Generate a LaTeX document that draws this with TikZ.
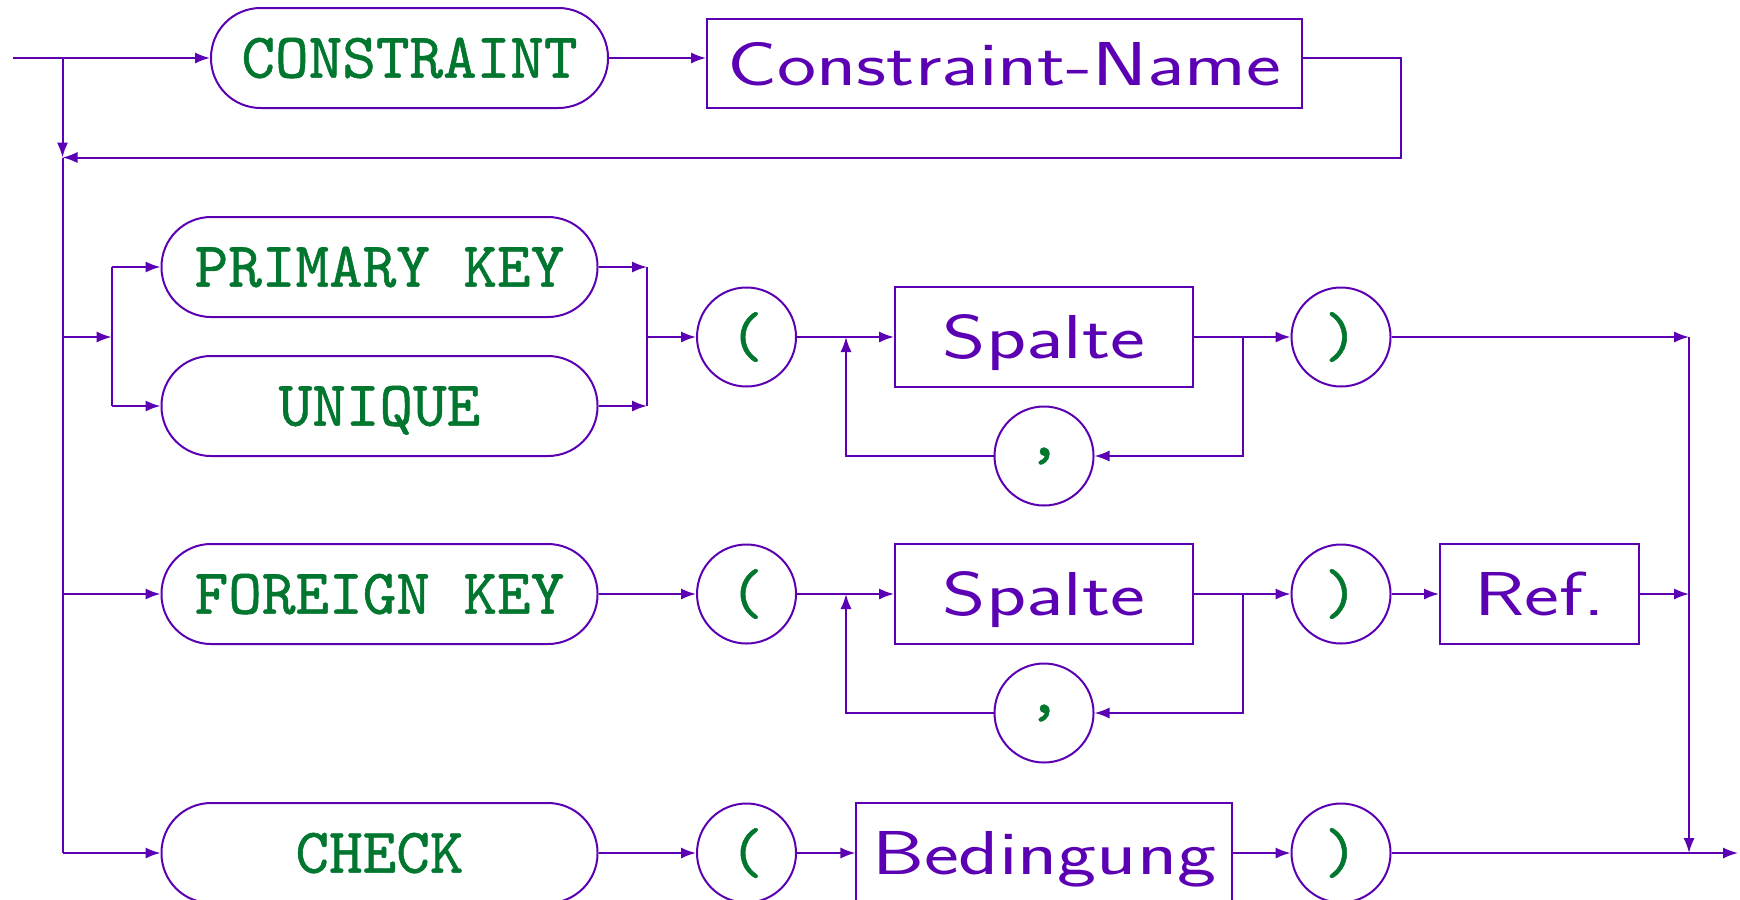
\documentclass[tikz,border=0pt]{standalone}
\usepackage{fontspec}
\newfontfamily\kwfont{lmmono10-regular.otf}[FakeBold=0.8]
\newfontfamily\ntfont{lmsans17-regular.otf}
\usetikzlibrary{arrows.meta}
\definecolor{lin}{RGB}{92,0,180}
\definecolor{kwc}{RGB}{0,118,46}
\newcommand{\ws}[1]{\scalebox{1.34}[1]{#1}}
\tikzset{
  ln/.style={draw=lin, line width=0.5pt},
  arr/.style={ln, -{Latex[length=3.75pt,width=2.8pt]}},
  kw/.style={draw=lin, line width=0.5pt, rounded corners=12.4pt, minimum height=25pt,
    inner sep=0pt, text=kwc, font=\fontsize{16}{19}\selectfont\kwfont,
    text height=9.8pt, text depth=0pt},
  nt/.style={draw=lin, line width=0.5pt, minimum height=25pt, inner sep=0pt,
    text=lin, font=\fontsize{15.5}{18}\selectfont\ntfont,
    text height=10.8pt, text depth=0pt},
  circ/.style={circle, draw=lin, line width=0.5pt, minimum size=24.75pt, inner sep=0pt,
    text=kwc, font=\fontsize{16}{19}\selectfont\kwfont},
  paren/.style={circ, text height=9.8pt, text depth=0pt}
}
\begin{document}
\begin{tikzpicture}[x=0.25pt,y=-0.25pt]
\useasboundingbox (0,0) rectangle (1740,899);
\clip (0,0) rectangle (1740,899);

% nodes
\node[kw, minimum width=99.25pt] (con) at (409.5,58) {CONSTRAINT};
\node[nt, minimum width=148.75pt, minimum height=22.25pt] (cn) at (1004.5,63.5) {\ws{Constraint-Name}};

\node[kw, minimum width=109pt] (pk) at (379.5,267) {PRIMARY KEY};
\node[kw, minimum width=109pt] (uq) at (379.5,406) {UNIQUE};
\node[paren] (lp1) at (746.5,337) {(};
\node[nt, minimum width=74.5pt] (sp1) at (1044,337) {\ws{Spalte}};
\node[circ] (cm1) at (1044,456) {,};
\node[paren] (rp1) at (1341,337) {)};

\node[kw, minimum width=109pt] (fk) at (379.5,594) {FOREIGN KEY};
\node[paren] (lp2) at (746.5,594) {(};
\node[nt, minimum width=74.5pt] (sp2) at (1044,594) {\ws{Spalte}};
\node[circ] (cm2) at (1044,713) {,};
\node[paren] (rp2) at (1341,594) {)};
\node[nt, minimum width=49.75pt] (ref) at (1539.5,594) {\ws{Ref.}};

\node[kw, minimum width=109pt] (ck) at (379.5,853) {CHECK};
\node[paren] (lp3) at (746.5,853) {(};
\node[nt, minimum width=93.9pt] (bed) at (1044.25,853) {\ws{Bedingung}};
\node[paren] (rp3) at (1341,853) {)};

% coordinates
\coordinate (start) at (12.5,58);
\coordinate (split) at (62.5,58);
\coordinate (back) at (62.5,157.5);
\coordinate (loopR) at (1401,58);
\coordinate (j1) at (111.6,337);
\coordinate (m1) at (647,337);
\coordinate (lx1) at (846,337);
\coordinate (rx1) at (1242.5,337);
\coordinate (lx2) at (846,594);
\coordinate (rx2) at (1242.5,594);
\coordinate (ex1) at (1689,337);
\coordinate (ex2) at (1689,594);
\coordinate (ex3) at (1689,853);
\coordinate (fin) at (1738,853);

% row 0
\draw[arr] (start) -- (con.west);
\draw[arr] (con.east) -- (con.east -| cn.west);
\draw[arr] (con.east -| cn.east) -- (loopR) |- (back);
\draw[arr] (split) -- (back);
\draw[ln] (back) -- (split |- ck.west);

% row 1
\draw[arr] (split |- j1) -- (j1);
\draw[ln] (j1 |- pk.west) -- (j1 |- uq.west);
\draw[arr] (j1 |- pk.west) -- (pk.west);
\draw[arr] (j1 |- uq.west) -- (uq.west);
\draw[arr] (pk.east) -- (m1 |- pk.east);
\draw[arr] (uq.east) -- (m1 |- uq.east);
\draw[ln] (m1 |- pk.east) -- (m1 |- uq.east);
\draw[arr] (m1) -- (lp1.west);
\draw[arr] (lp1.east) -- (sp1.west);
\draw[arr] (sp1.east) -- (rp1.west);
\draw[arr] (rx1) |- (cm1.east);
\draw[arr] (cm1.west) -| (lx1);
\draw[arr] (rp1.east) -- (ex1);
\draw[arr] (ex1) -- (ex3);

% row 2
\draw[arr] (split |- fk.west) -- (fk.west);
\draw[arr] (fk.east) -- (lp2.west);
\draw[arr] (lp2.east) -- (sp2.west);
\draw[arr] (sp2.east) -- (rp2.west);
\draw[arr] (rx2) |- (cm2.east);
\draw[arr] (cm2.west) -| (lx2);
\draw[arr] (rp2.east) -- (ref.west);
\draw[arr] (ref.east) -- (ex2);

% row 3
\draw[arr] (split |- ck.west) -- (ck.west);
\draw[arr] (ck.east) -- (lp3.west);
\draw[arr] (lp3.east) -- (bed.west);
\draw[arr] (bed.east) -- (rp3.west);
\draw[arr] (rp3.east) -- (fin);
\end{tikzpicture}
\end{document}
